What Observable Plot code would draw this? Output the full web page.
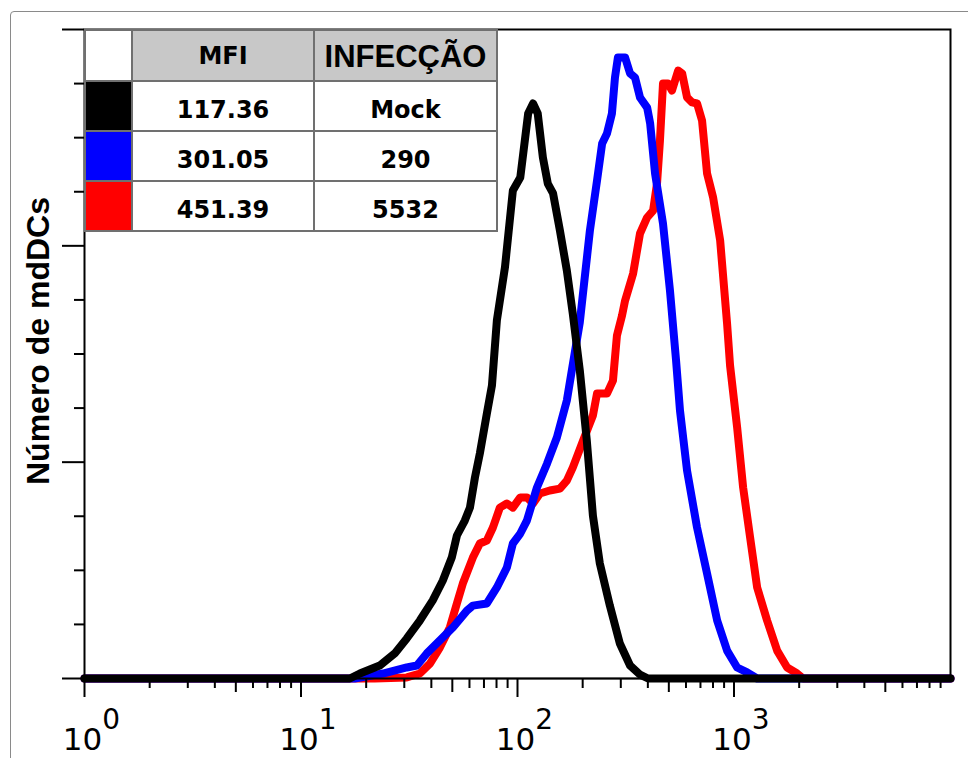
<!DOCTYPE html>
<html><head><meta charset="utf-8">
<script src="https://cdn.jsdelivr.net/npm/d3@7"></script>
<script src="https://cdn.jsdelivr.net/npm/@observablehq/plot@0.6"></script>
<style>
body{margin:0;background:#fff;overflow:hidden}
#wrap{position:relative;width:968px;height:758px;overflow:hidden}
#outer{position:absolute;left:10px;top:11px;width:1000px;height:800px;border:1px solid #8a8a8a;border-radius:4px;pointer-events:none}
#tbl{position:absolute;left:84px;top:29px;border-collapse:collapse;table-layout:fixed;background:#fff;width:412px}
#tbl tr{height:50px}
#tbl tr.h{height:51px}
#tbl td{border:2px solid #707070;text-align:center;vertical-align:middle;padding:7px 0 0 0;font-family:"DejaVu Sans",sans-serif;font-weight:bold;font-size:24px;color:#000;line-height:24px;box-sizing:border-box}
#tbl tr.h td{background:#c8c8c8;padding-top:0}
#tbl tr.h td.sw{background:#fff}
</style>
</head><body>
<div id="wrap"><div id="outer"></div></div>
<script>
// Histogram data: fluorescence intensity (x) and number of cells (y)
const mockX = [1, 16.8, 18.7, 23.1, 27.1, 30.8, 35.4, 40.6, 45.2, 49.7, 52.5, 57.1, 60.3, 63.6, 67.0, 72.2, 76.2, 80.3, 87.5, 95.2, 103, 112, 118, 124, 131, 138, 146, 157, 169, 180, 194, 209, 223, 240, 267, 297, 331, 368, 401, 10000];
const mockY = [0, 0, 2.3, 6.0, 11.6, 18.5, 26.8, 36.1, 45.3, 55.9, 66.1, 73.0, 79.0, 92.9, 104.0, 122.5, 135.4, 165.5, 190.0, 225.6, 231.6, 261.2, 265.8, 261.2, 240.8, 228.8, 224.2, 207.1, 188.6, 168.7, 142.4, 110.0, 75.3, 53.2, 33.7, 16.2, 6.0, 1.8, 0, 0];

const inf290X = [1, 17.7, 23.9, 30.8, 34.3, 38.1, 43.8, 50.3, 58.4, 62.2, 72.2, 80.3, 89.3, 95.2, 103, 110.5, 123, 137, 152, 169, 194, 216, 233, 246, 259, 273, 282, 291, 314, 331, 349, 368, 397, 410, 432, 470, 506, 540, 563, 607, 675, 751, 836, 929, 1034, 1150, 1279, 10000];
const inf290Y = [0, 0, 2.3, 5.1, 6.0, 11.6, 17.6, 23.6, 31.4, 33.7, 34.7, 42.1, 51.3, 62.4, 67.0, 73.0, 88.3, 99.4, 111.4, 128.5, 164.6, 207.1, 230.2, 247.3, 251.9, 261.2, 277.8, 287.1, 287.1, 279.7, 277.8, 268.6, 263.9, 256.5, 233.4, 210.3, 179.4, 147.0, 123.9, 96.1, 69.8, 48.5, 26.8, 12.9, 5.1, 2.8, 0, 0];

const inf5532X = [1, 21.9, 30.8, 35.4, 39.4, 43.8, 48.7, 52.5, 55.9, 62.2, 67.0, 72.2, 77.0, 82.9, 89.3, 95.2, 103, 110.5, 118, 127, 141, 157, 169, 180, 201, 223, 233, 259, 276, 288, 304, 314, 342, 368, 397, 423, 441, 455, 470, 496, 517, 552, 576, 607, 640, 675, 712, 751, 801, 863, 929, 959, 1034, 1102, 1187, 1279, 1422, 1582, 1760, 1957, 2087, 10000];
const inf5532Y = [0, 0, 0.5, 2.3, 6.9, 14.3, 23.6, 34.7, 43.9, 55.9, 62.4, 63.8, 69.8, 79.0, 80.9, 79.0, 83.7, 83.7, 80.9, 85.5, 86.9, 87.8, 91.5, 97.5, 110.0, 121.6, 131.7, 131.7, 137.7, 158.6, 167.8, 174.7, 187.2, 205.7, 213.1, 216.3, 228.8, 248.7, 275.0, 275.0, 271.8, 281.0, 279.7, 268.6, 266.3, 265.8, 257.9, 233.4, 222.3, 202.5, 164.1, 144.7, 116.0, 88.3, 65.2, 42.1, 26.8, 12.9, 5.1, 2.3, 0, 0];

// Table contents
const tableHeaders = ["MFI", "INFECÇÃO"];
const swatchColors = ["#000000", "#0000ff", "#ff0000"];
const mfiValues = ["117.36", "301.05", "451.39"];
const infeccaoValues = ["Mock", "290", "5532"];

// Axis ticks
const xMajorTicks = [1, 10, 100, 1000];
const xMidTicks = [5, 50, 500, 5000];
const xMinorTicks = [2, 3, 4, 6, 7, 8, 9, 20, 30, 40, 60, 70, 80, 90, 200, 300, 400, 600, 700, 800, 900, 2000, 3000, 4000, 6000, 7000, 8000, 9000];
const yMajorTicks = [0, 100, 200, 300];
const yMinorTicks = [25, 50, 75, 125, 150, 175, 225, 250, 275];
const yLabel = "Número de mdDCs";

const toRows = (xs, ys) => xs.map((x, i) => ({x, y: ys[i]}));
const lineOpts = {x: "x", y: "y", strokeWidth: 8, strokeLinejoin: "round", strokeLinecap: "round"};

const plot = Plot.plot({
  width: 968, height: 758,
  marginLeft: 84, marginRight: 18, marginTop: 29, marginBottom: 80,
  style: {background: "transparent", overflow: "visible"},
  x: {type: "log", domain: [1, 10000], label: null},
  y: {domain: [0, 300], label: null},
  marks: [
    Plot.ruleY([0], {stroke: "#000", strokeWidth: 1.5}),
    Plot.line(toRows(inf5532X, inf5532Y), {...lineOpts, stroke: swatchColors[2]}),
    Plot.line(toRows(inf290X, inf290Y), {...lineOpts, stroke: swatchColors[1]}),
    Plot.line(toRows(mockX, mockY), {...lineOpts, stroke: swatchColors[0]}),
    Plot.frame({stroke: "#000", strokeWidth: 2}),
    Plot.axisX({ticks: xMajorTicks, tickSize: 19, tickFormat: () => "", label: null, stroke: "#000", strokeWidth: 2}),
    Plot.axisX({ticks: xMidTicks, tickSize: 14, tickFormat: () => "", label: null, stroke: "#000", strokeWidth: 2}),
    Plot.axisX({ticks: xMinorTicks, tickSize: 10, tickFormat: () => "", label: null, stroke: "#000", strokeWidth: 2}),
    Plot.axisY({ticks: yMajorTicks, tickSize: 22, tickFormat: () => "", label: null, stroke: "#000", strokeWidth: 2}),
    Plot.axisY({ticks: yMinorTicks, tickSize: 10, tickFormat: () => "", label: null, stroke: "#000", strokeWidth: 2}),
    Plot.text(xMajorTicks, {x: d => d, frameAnchor: "bottom", dy: 71, dx: 7, text: d => "10^" + Math.round(Math.log10(d)),
      fontSize: 31, fontFamily: "DejaVu Sans", lineAnchor: "bottom", textAnchor: "middle", fill: "#000"}),
    Plot.text([yLabel], {text: d => d, frameAnchor: "left", rotate: -90, dx: -46, dy: -13, fontSize: 32, fontWeight: "bold",
      fontFamily: "Liberation Sans", lineAnchor: "middle", textAnchor: "middle", fill: "#000"})
  ]
});

// superscript exponents
plot.querySelectorAll("text").forEach(t => {
  if (!t.textContent.includes("^")) return;
  const [base, exp] = t.textContent.split("^");
  t.textContent = base;
  const ts = document.createElementNS("http://www.w3.org/2000/svg", "tspan");
  ts.setAttribute("dy", "-21");
  ts.setAttribute("font-size", "28");
  ts.textContent = exp;
  t.appendChild(ts);
});

const wrap = document.getElementById("wrap");
plot.style.position = "absolute";
plot.style.left = "0px";
plot.style.top = "0px";
wrap.appendChild(plot);

// table
const tbl = document.createElement("table");
tbl.id = "tbl";
const cg = document.createElement("colgroup");
[47, 182, 183].forEach(w => { const c = document.createElement("col"); c.style.width = w + "px"; cg.appendChild(c); });
tbl.appendChild(cg);
const hr = document.createElement("tr"); hr.className = "h";
const hsw = document.createElement("td"); hsw.className = "sw"; hr.appendChild(hsw);
tableHeaders.forEach((h, i) => {
  const td = document.createElement("td"); td.textContent = h;
  if (i === 1) { td.style.fontFamily = '"Liberation Sans", sans-serif'; td.style.fontSize = "31px"; td.style.paddingTop = "3px"; }
  else { td.style.fontSize = "24px"; }
  hr.appendChild(td);
});
tbl.appendChild(hr);
mfiValues.forEach((m, i) => {
  const tr = document.createElement("tr");
  const sw = document.createElement("td"); sw.style.background = swatchColors[i]; tr.appendChild(sw);
  const a = document.createElement("td"); a.textContent = m; tr.appendChild(a);
  const b = document.createElement("td"); b.textContent = infeccaoValues[i]; tr.appendChild(b);
  tbl.appendChild(tr);
});
wrap.appendChild(tbl);
</script>
</body></html>
